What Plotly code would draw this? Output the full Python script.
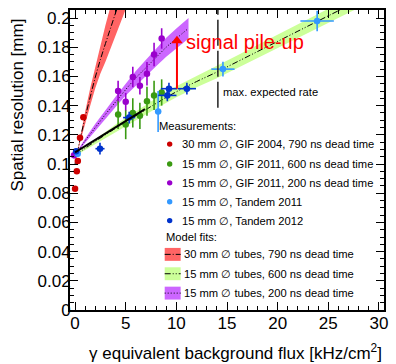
import plotly.graph_objects as go

# ---------------- measurements ----------------
gif04_x = [0.0, 0.17, 0.27, 0.49, 0.82]
gif04_y = [0.083, 0.095, 0.102, 0.118, 0.132]

gif11_x = [4.25, 5.0, 5.7, 6.4, 7.1, 7.8, 8.55]
gif11_600_y = [0.134, 0.127, 0.135, 0.133, 0.143, 0.147, 0.149]
gif11_600_ey = [0.010, 0.010, 0.010, 0.009, 0.010, 0.010, 0.009]

gif11_200_x = [-0.1] + gif11_x
gif11_200_y = [0.106, 0.150, 0.1427, 0.1596, 0.1536, 0.1618, 0.175, 0.186]
gif11_200_ey = [0.002, 0.007, 0.006, 0.007, 0.006, 0.008, 0.008, 0.007]

tandem11_x = [0.26, 8.2, 14.6, 23.9]
tandem11_ex = [0.15, 0.3, 1.15, 1.65]
tandem11_y = [0.107, 0.136, 0.165, 0.198]
tandem11_ey = [0.002, 0.014, 0.005, 0.007]

tandem12_x = [0.1, 2.46, 5.34, 9.11, 9.27, 11.04]
tandem12_ex = [0.1, 0.45, 0.6, 0.9, 0.8, 0.9]
tandem12_y = [0.1088, 0.1105, 0.1318, 0.147, 0.1516, 0.1516]
tandem12_ey = [0.002, 0.004, 0.004, 0.004, 0.004, 0.004]

# linear fit to the low-rate Tandem data
tandem_fit_x = [0.0, 6.9]
tandem_fit_y = [0.108, 0.1376]

# ---------------- model fits (central value and half width of band) ----------------
fit30_x = [0.0, 0.5, 1.0, 1.5, 2.0, 2.5, 3.0, 3.5, 4.0, 4.5, 5.0]
fit30_y = [0.100, 0.117, 0.132, 0.146, 0.1595, 0.1715, 0.1825, 0.193, 0.2035, 0.213, 0.2225]
fit30_w = [0.0005, 0.002, 0.004, 0.006, 0.0075, 0.0095, 0.0125, 0.015, 0.0155, 0.016, 0.0165]

fit600_x = [0, 2, 4, 6, 8, 10, 12, 14, 16, 18, 20, 22, 24, 26, 28]
fit600_y = [0.106, 0.1155, 0.1245, 0.133, 0.1415, 0.1495, 0.1565, 0.163, 0.170,
            0.177, 0.184, 0.191, 0.198, 0.205, 0.212]
fit600_w = [0.0005, 0.0015, 0.0025, 0.003, 0.0035, 0.0038, 0.004, 0.0042, 0.0044,
            0.0045, 0.0046, 0.0047, 0.0048, 0.0049, 0.005]

fit200_x = [0, 1, 2, 3, 4, 5, 6, 7, 8, 9, 10, 11.2]
fit200_y = [0.106, 0.116, 0.125, 0.134, 0.1425, 0.151, 0.159, 0.166, 0.173, 0.180, 0.186, 0.193]
fit200_w = [0.0005, 0.0015, 0.0025, 0.003, 0.0035, 0.004, 0.0048, 0.0055, 0.006, 0.0065, 0.0068, 0.007]

# ---------------- annotations ----------------
pileup_x = [10.06, 10.06]
pileup_y = [0.1516, 0.1845]
max_rate_x = 14.1
max_rate_ymin = 0.1385

x_ticks = [0, 5, 10, 15, 20, 25, 30]
y_ticks = [0, 0.02, 0.04, 0.06, 0.08, 0.1, 0.12, 0.14, 0.16, 0.18, 0.2]
y_ticktext = ["0", "0.02", "0.04", "0.06", "0.08", "0.1", "0.12", "0.14", "0.16", "0.18", "0.2"]

meas_labels = ["30 mm \u2205, GIF 2004, 790 ns dead time",
               "15 mm \u2205, GIF 2011, 600 ns dead time",
               "15 mm \u2205, GIF 2011, 200 ns dead time",
               "15 mm \u2205, Tandem 2011",
               "15 mm \u2205, Tandem 2012"]
fit_labels = ["30 mm \u2205 tubes, 790 ns dead time",
              "15 mm \u2205 tubes, 600 ns dead time",
              "15 mm \u2205 tubes, 200 ns dead time"]

C_RED, C_GREEN, C_PURPLE, C_LBLUE, C_BLUE = "#cc0000", "#3a9a12", "#9a00cc", "#3399ff", "#0033cc"
B_RED, B_GREEN, B_PURPLE = "#ff6464", "#ccff99", "#cc66ff"
meas_colors = [C_RED, C_GREEN, C_PURPLE, C_LBLUE, C_BLUE]
fit_colors = [B_RED, B_GREEN, B_PURPLE]
fit_dashes = ["6px,2px,1px,2px", "6px,2px,1px,2px,1px,2px", "1px,2px"]

FONT = "Liberation Sans, Arial, Helvetica, sans-serif"

fig = go.Figure()


def band(xs, ys, ws, color, dash):
    upper = [y + w for y, w in zip(ys, ws)]
    lower = [y - w for y, w in zip(ys, ws)]
    fig.add_trace(go.Scatter(x=xs + xs[::-1], y=upper + lower[::-1], fill="toself",
                             fillcolor=color, line=dict(width=0), mode="lines",
                             hoverinfo="skip", showlegend=False))
    fig.add_trace(go.Scatter(x=xs, y=ys, mode="lines", line=dict(color="black", width=1, dash=dash),
                             showlegend=False, line_shape="spline"))


band(fit30_x, fit30_y, fit30_w, B_RED, fit_dashes[0])
band(fit600_x, fit600_y, fit600_w, B_GREEN, fit_dashes[1])
band(fit200_x, fit200_y, fit200_w, B_PURPLE, fit_dashes[2])


def points(xs, ys, color, ey=None, ex=None):
    fig.add_trace(go.Scatter(
        x=xs, y=ys, mode="markers",
        marker=dict(color=color, size=6.5, line=dict(width=0)),
        error_y=dict(type="data", array=ey, thickness=1.6, width=0, color=color) if ey else None,
        error_x=dict(type="data", array=ex, thickness=1.6, width=0, color=color) if ex else None,
        showlegend=False))


points(gif11_x, gif11_600_y, C_GREEN, ey=gif11_600_ey)
points(gif11_200_x, gif11_200_y, C_PURPLE, ey=gif11_200_ey)
points(tandem11_x, tandem11_y, C_LBLUE, ey=tandem11_ey, ex=tandem11_ex)
points(tandem12_x, tandem12_y, C_BLUE, ey=tandem12_ey, ex=tandem12_ex)
points(gif04_x, gif04_y, C_RED)

fig.add_trace(go.Scatter(x=tandem_fit_x, y=tandem_fit_y, mode="lines",
                         line=dict(color="black", width=2), showlegend=False))

# maximum expected rate marker
fig.add_shape(type="line", x0=max_rate_x, x1=max_rate_x, y0=max_rate_ymin, y1=0.2055,
              xref="x", yref="y", line=dict(color="#222222", width=1.5, dash="26px,5px"))
fig.add_annotation(x=max_rate_x + 0.3, y=0.149, xref="x", yref="y", text="max. expected rate",
                   showarrow=False, xanchor="left", yanchor="middle",
                   font=dict(family=FONT, size=11.2, color="black"))

# signal pile-up arrow: shaft plus a triangular head at the upper end
fig.add_trace(go.Scatter(x=pileup_x, y=pileup_y, mode="lines",
                         line=dict(color="#ff0000", width=2), showlegend=False))
fig.add_trace(go.Scatter(x=pileup_x[1:], y=pileup_y[1:], mode="markers",
                         marker=dict(symbol="triangle-up", size=10, color="#ff0000",
                                     line=dict(width=0)),
                         showlegend=False))
fig.add_annotation(x=10.75, y=0.1835, xref="x", yref="y", text="signal pile-up",
                   showarrow=False, xanchor="left", yanchor="middle",
                   font=dict(family=FONT, size=20, color="#ff0000"))

# ---------------- legend ----------------
L, R, T, B = 70, 385, 8, 310


def px_x(px):
    return (px - L) / (R - L)


def px_y(py):
    return (B - py) / (B - T)


legend_font = dict(family=FONT, size=11.2, color="black")
fig.add_annotation(x=px_x(157), y=px_y(125), xref="paper", yref="paper", text="Measurements:",
                   showarrow=False, xanchor="left", yanchor="middle", font=legend_font)
for i, (lab, col) in enumerate(zip(meas_labels, meas_colors)):
    row_y = [143, 163, 182, 201, 220][i]
    fig.add_shape(type="circle", xref="paper", yref="paper", xsizemode="pixel", ysizemode="pixel",
                  xanchor=px_x(170), yanchor=px_y(row_y), x0=-2.7, x1=2.7, y0=-2.7, y1=2.7,
                  fillcolor=col, line=dict(width=0))
    fig.add_annotation(x=px_x(180), y=px_y(row_y), xref="paper", yref="paper", text=lab,
                       showarrow=False, xanchor="left", yanchor="middle", font=legend_font)

fig.add_annotation(x=px_x(164), y=px_y(237), xref="paper", yref="paper", text="Model fits:",
                   showarrow=False, xanchor="left", yanchor="middle", font=legend_font)
for i, (lab, col, dash) in enumerate(zip(fit_labels, fit_colors, fit_dashes)):
    row_y = [254, 273.5, 293][i]
    fig.add_shape(type="rect", xref="paper", yref="paper",
                  x0=px_x(165), x1=px_x(181), y0=px_y(row_y - 6.5), y1=px_y(row_y + 6.5),
                  fillcolor=col, line=dict(width=0))
    fig.add_shape(type="line", xref="paper", yref="paper",
                  x0=px_x(165), x1=px_x(181), y0=px_y(row_y), y1=px_y(row_y),
                  line=dict(color="black", width=1, dash=dash))
    fig.add_annotation(x=px_x(182), y=px_y(row_y), xref="paper", yref="paper", text=lab,
                       showarrow=False, xanchor="left", yanchor="middle", font=legend_font)

# ---------------- axis titles ----------------
fig.add_annotation(x=px_x(17), y=px_y(104), xref="paper", yref="paper",
                   text="Spatial resolution [mm]", textangle=-90, showarrow=False,
                   xanchor="center", yanchor="middle", font=dict(family=FONT, size=17, color="black"))
fig.add_annotation(x=1.0, y=px_y(352.5), xref="paper", yref="paper",
                   text="\u03b3 equivalent background flux [kHz/cm<sup>2</sup>]", showarrow=False,
                   xanchor="right", yanchor="middle", font=dict(family=FONT, size=17, color="black"))

axis_common = dict(showgrid=False, zeroline=False, showline=True, linecolor="black", linewidth=2,
                   mirror="allticks", ticks="inside", ticklen=8, tickwidth=1.3, tickcolor="black",
                   tickfont=dict(family=FONT, size=17, color="black"))

fig.update_xaxes(range=[-0.5, 30.5], tickvals=x_ticks, ticklabelstandoff=-3,
                 minor=dict(dtick=1, tick0=0, ticklen=4, ticks="inside", tickcolor="black", tickwidth=1.3),
                 **axis_common)
fig.update_yaxes(range=[0, 0.2055], tickvals=y_ticks, ticktext=y_ticktext, ticklabelstandoff=-6,
                 minor=dict(dtick=0.005, tick0=0, ticklen=4, ticks="inside", tickcolor="black", tickwidth=1.3),
                 **axis_common)

fig.update_layout(width=396, height=364, margin=dict(l=L, r=396 - R, t=T, b=364 - B),
                  paper_bgcolor="white", plot_bgcolor="white", showlegend=False,
                  font=dict(family=FONT))

fig.write_html("out.html")
